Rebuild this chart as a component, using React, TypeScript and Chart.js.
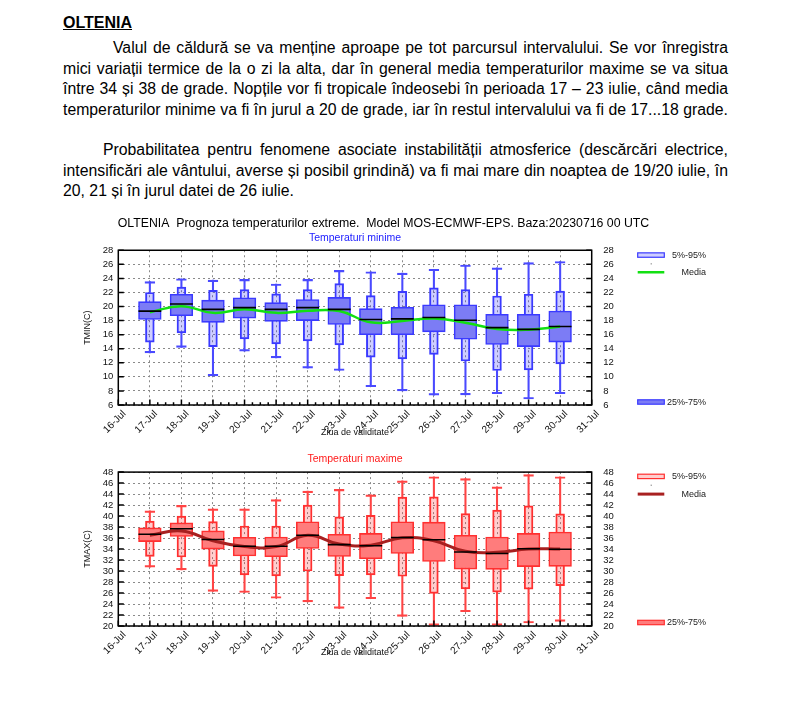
import React, { useEffect, useRef } from 'react';
import { Chart, registerables } from 'chart.js';

Chart.register(...registerables);

const FONT = '"Liberation Sans", Arial, Helvetica, sans-serif';

// ---------------- data ----------------
const axisDays = ['16-Jul', '17-Jul', '18-Jul', '19-Jul', '20-Jul', '21-Jul', '22-Jul', '23-Jul', '24-Jul', '25-Jul', '26-Jul', '27-Jul', '28-Jul', '29-Jul', '30-Jul', '31-Jul'];
const days = ['17-Jul', '18-Jul', '19-Jul', '20-Jul', '21-Jul', '22-Jul', '23-Jul', '24-Jul', '25-Jul', '26-Jul', '27-Jul', '28-Jul', '29-Jul', '30-Jul'];

// TMIN
const tminMin = [13.4, 14.2, 10.15, 13.65, 12.7, 11.25, 10.9, 8.6, 8.0, 7.4, 7.45, 7.6, 6.85, 7.6];
const tminP5 = [14.95, 16.25, 14.3, 15.4, 14.7, 15.1, 14.55, 12.8, 12.55, 13.2, 12.25, 10.9, 11.0, 11.85];
const tminQ1 = [18.15, 18.7, 17.75, 18.35, 17.9, 18.0, 17.45, 16.0, 16.0, 16.4, 15.35, 14.6, 14.3, 14.95];
const tminMedian = [19.35, 20.35, 19.6, 19.85, 19.6, 19.85, 19.6, 18.15, 18.25, 18.45, 18.05, 17.0, 16.75, 17.15];
const tminQ3 = [20.7, 21.75, 20.9, 21.25, 20.55, 21.0, 21.3, 19.7, 19.9, 20.25, 20.25, 18.9, 18.9, 19.35];
const tminP95 = [22.0, 22.75, 22.3, 22.4, 21.8, 22.4, 23.25, 21.55, 22.15, 22.65, 22.4, 21.5, 21.75, 22.2];
const tminMax = [23.55, 23.95, 23.75, 23.85, 23.2, 23.85, 25.15, 24.95, 24.75, 25.3, 25.9, 25.5, 26.25, 26.4];
const tminMean = [19.2, 20.05, 19.1, 19.6, 19.1, 19.4, 19.35, 17.75, 17.95, 18.3, 17.7, 16.8, 16.7, 17.15];

// TMAX
const tmaxMin = [30.7, 30.2, 26.3, 26.1, 25.05, 24.4, 23.2, 24.95, 21.75, 20.1, 22.6, 20.1, 20.55, 20.85];
const tmaxP5 = [32.65, 32.55, 30.85, 29.3, 29.1, 30.0, 29.15, 29.3, 29.05, 25.95, 26.75, 26.15, 26.7, 27.35];
const tmaxQ1 = [35.35, 36.3, 34.0, 32.75, 32.6, 34.1, 32.65, 32.25, 33.2, 31.75, 30.35, 30.3, 30.8, 30.85];
const tmaxMedian = [36.7, 37.7, 35.75, 34.5, 34.5, 36.5, 34.8, 34.6, 36.1, 35.7, 33.45, 33.2, 34.05, 33.95];
const tmaxQ3 = [37.85, 38.75, 37.3, 36.15, 36.2, 38.95, 36.7, 36.85, 38.95, 38.9, 36.5, 36.2, 36.85, 37.1];
const tmaxP95 = [39.1, 40.0, 39.0, 38.2, 38.2, 42.0, 39.85, 40.15, 43.45, 43.5, 40.45, 41.1, 41.85, 40.4];
const tmaxMax = [40.95, 41.95, 41.3, 41.3, 43.0, 44.55, 44.85, 43.85, 46.4, 47.15, 46.8, 45.3, 47.55, 47.15];
const tmaxMean = [36.5, 37.3, 35.5, 34.45, 34.45, 36.5, 34.9, 34.7, 36.05, 35.5, 33.6, 33.4, 34.0, 34.0];

const legendLabels = ['5%-95%', 'Media', '25%-75%'];

const mainTitle = 'OLTENIA  Prognoza temperaturilor extreme.  Model MOS-ECMWF-EPS. Baza:20230716 00 UTC';

const para1 = [
  'Valul de căldură se va menține aproape pe tot parcursul intervalului. Se vor înregistra',
  'mici variații termice de la o zi la alta, dar în general media temperaturilor maxime se va situa',
  'între 34 și 38 de grade. Nopțile vor fi tropicale îndeosebi în perioada 17 – 23 iulie, când media',
  'temperaturilor minime va fi în jurul a 20 de grade, iar în restul intervalului va fi de 17...18 grade.',
];
const para2 = [
  'Probabilitatea pentru fenomene asociate instabilității atmosferice (descărcări electrice,',
  'intensificări ale vântului, averse și posibil grindină) va fi mai mare din noaptea de 19/20 iulie, în',
  '20, 21 și în jurul datei de 26 iulie.',
];

// ---------------- plugins ----------------
const gnuFrame = {
  id: 'gnuFrame',
  afterDatasetsDraw(chart: any) {
    const { ctx, chartArea: a, scales } = chart;
    const x = scales.x;
    const y = scales.y;
    ctx.save();
    ctx.strokeStyle = '#000';
    ctx.lineWidth = 1.5;
    ctx.beginPath();
    y.ticks.forEach((t: any) => {
      const py = y.getPixelForValue(t.value);
      ctx.moveTo(a.left, py);
      ctx.lineTo(a.left + 5.5, py);
      ctx.moveTo(a.right, py);
      ctx.lineTo(a.right - 5.5, py);
    });
    const n = x.ticks.length;
    for (let i = 0; i < n; i++) {
      const px = x.getPixelForTick(i);
      ctx.moveTo(px, a.bottom);
      ctx.lineTo(px, a.bottom - 5.5);
      if (i < n - 1) {
        const nx = x.getPixelForTick(i + 1);
        for (let k = 1; k < 4; k++) {
          const mx = px + ((nx - px) * k) / 4;
          ctx.moveTo(mx, a.bottom);
          ctx.lineTo(mx, a.bottom - 2.8);
        }
      }
    }
    ctx.stroke();
    ctx.strokeRect(a.left, a.top, a.right - a.left, a.bottom - a.top);
    ctx.restore();
  },
};

const gnuLegend = {
  id: 'gnuLegend',
  afterDraw(chart: any, _args: any, o: any) {
    const { ctx, chartArea: a } = chart;
    const bx = a.right + 46;
    const bw = 26.6;
    const tx = a.right + 114.3;
    ctx.save();
    ctx.font = `9px ${FONT}`;
    ctx.textAlign = 'right';
    ctx.textBaseline = 'middle';
    // 5%-95%
    const y1 = a.top + o.row1;
    ctx.fillStyle = o.lightFill;
    ctx.fillRect(bx, y1 - 2.2, bw, 4.4);
    ctx.strokeStyle = o.stroke;
    ctx.lineWidth = 1.2;
    ctx.strokeRect(bx, y1 - 2.2, bw, 4.4);
    ctx.fillStyle = '#222';
    ctx.fillText(legendLabels[0], tx, y1 + 0.5);
    ctx.fillStyle = '#555';
    ctx.fillRect(bx + 13, y1 + 8.3, 1, 1);
    // Media
    const y2 = a.top + o.row2;
    ctx.strokeStyle = o.meanColor;
    ctx.lineWidth = o.meanWidth;
    ctx.beginPath();
    ctx.moveTo(bx, y2);
    ctx.lineTo(bx + bw, y2);
    ctx.stroke();
    ctx.fillStyle = '#222';
    ctx.fillText(legendLabels[1], tx, y2 + 0.5);
    // 25%-75%
    const y3 = a.bottom + o.row3;
    ctx.fillStyle = o.darkFill;
    ctx.fillRect(bx, y3 - 2.2, bw, 4.4);
    ctx.strokeStyle = o.stroke;
    ctx.lineWidth = 1.2;
    ctx.strokeRect(bx, y3 - 2.2, bw, 4.4);
    ctx.fillStyle = '#222';
    ctx.fillText(legendLabels[2], tx, y3 + 0.5);
    ctx.restore();
  },
};

// ---------------- config ----------------
type Params = {
  min: number[]; p5: number[]; q1: number[]; median: number[]; q3: number[]; p95: number[]; max: number[]; mean: number[];
  yMin: number; yMax: number; yTitle: string; subtitle: string; subColor: string;
  withTitle: boolean;
  darkFill: string; lightFill: string; stroke: string; whisker: string; meanColor: string; meanWidth: number;
  titleTop: number; subTop: number; subBottom: number; xHeight: number;
  row1: number; row2: number; row3: number;
};

function buildConfig(p: Params): any {
  const range = (lo: number[], hi: number[]) => days.map((d, i) => ({ x: d, y: [lo[i], hi[i]] }));
  const pts = (v: number[]) => days.map((d, i) => ({ x: d, y: v[i] }));
  const tickFont = { family: FONT, size: 9.5 };
  const fixY = (w: number) => (s: any) => {
    s.width = w;
    s.paddingTop = 0;
    s.paddingBottom = 0;
    s.paddingLeft = 0;
    s.paddingRight = 0;
  };
  return {
    type: 'bar',
    data: {
      labels: axisDays,
      datasets: [
        {
          type: 'line', label: 'Mediana', data: pts(p.median), showLine: false,
          pointStyle: 'line', pointRadius: 11.4, pointHoverRadius: 11.4,
          pointBorderColor: '#000', pointBackgroundColor: '#000', pointBorderWidth: 1.6,
        },
        {
          type: 'line', label: legendLabels[1], data: pts(p.mean), borderColor: p.meanColor,
          borderWidth: p.meanWidth, tension: 0.45, pointRadius: 0, fill: false,
        },
        {
          label: legendLabels[2], data: range(p.q1, p.q3), backgroundColor: p.darkFill,
          borderColor: p.stroke, borderWidth: 1.6, barThickness: 22.7,
        },
        {
          label: legendLabels[0], data: range(p.p5, p.p95), backgroundColor: p.lightFill,
          borderColor: p.stroke, borderWidth: 1.3, barThickness: 8.8,
        },
        {
          label: 'capHi', data: range(p.p95, p.max), backgroundColor: 'rgba(0,0,0,0)',
          borderColor: p.whisker, borderWidth: { top: 1.5, right: 0, bottom: 0, left: 0 }, barThickness: 10.5,
        },
        {
          label: 'capLo', data: range(p.min, p.p5), backgroundColor: 'rgba(0,0,0,0)',
          borderColor: p.whisker, borderWidth: { top: 0, right: 0, bottom: 1.5, left: 0 }, barThickness: 10.5,
        },
        {
          label: 'stemHi', data: range(p.p95, p.max), backgroundColor: p.whisker,
          borderWidth: 0, barThickness: 1.4,
        },
        {
          label: 'stemLo', data: range(p.min, p.p5), backgroundColor: p.whisker,
          borderWidth: 0, barThickness: 1.4,
        },
      ],
    },
    options: {
      animation: false,
      responsive: false,
      events: [],
      layout: { padding: { left: 77.7, right: 106.7, top: 0, bottom: 0 } },
      datasets: { bar: { grouped: false, borderSkipped: false } },
      plugins: {
        legend: { display: false },
        tooltip: { enabled: false },
        title: {
          display: p.withTitle, text: mainTitle, color: '#000', fullSize: true,
          font: { family: FONT, size: 12.3, weight: 'normal' },
          padding: { top: p.titleTop, bottom: 0 },
        },
        subtitle: {
          display: true, text: p.subtitle, color: p.subColor, fullSize: false,
          font: { family: FONT, size: 10.5, weight: 'normal' },
          padding: { top: p.subTop, bottom: p.subBottom },
        },
        gnuLegend: {
          row1: p.row1, row2: p.row2, row3: p.row3,
          lightFill: p.lightFill, darkFill: p.darkFill, stroke: p.stroke,
          meanColor: p.meanColor, meanWidth: p.meanWidth,
        },
      },
      scales: {
        x: {
          type: 'category',
          offset: false,
          grid: { offset: false, color: '#8a8a8a', lineWidth: 1, drawTicks: false },
          border: { display: false, dash: [2, 3] },
          ticks: {
            autoSkip: false, minRotation: 45, maxRotation: 45, padding: 3, labelOffset: 6,
            font: { family: FONT, size: 10 }, color: '#111',
          },
          title: {
            display: true, text: 'Ziua de validitate', color: '#111',
            font: { family: FONT, size: 9 }, padding: { top: 0, bottom: 6.7 },
          },
          afterFit: (s: any) => {
            s.height = p.xHeight;
            s.paddingLeft = 0;
            s.paddingRight = 0;
            s.paddingTop = 0;
            s.paddingBottom = 0;
          },
        },
        y: {
          position: 'left',
          min: p.yMin, max: p.yMax,
          grid: { color: '#8a8a8a', lineWidth: 1, drawTicks: false },
          border: { display: false, dash: [2, 3] },
          ticks: { stepSize: 2, autoSkip: false, padding: 5, font: tickFont, color: '#111' },
          title: {
            display: true, text: p.yTitle, color: '#111',
            font: { family: FONT, size: 9 }, padding: { top: 4, bottom: 0 },
          },
          afterFit: fixY(40.6),
        },
        y2: {
          position: 'right',
          min: p.yMin, max: p.yMax,
          grid: { display: false, drawTicks: false },
          border: { display: false },
          ticks: { stepSize: 2, autoSkip: false, padding: 11.6, font: tickFont, color: '#111' },
          afterFit: fixY(97.6),
        },
      },
    },
    plugins: [gnuFrame, gnuLegend],
  };
}

const tminParams: Params = {
  min: tminMin, p5: tminP5, q1: tminQ1, median: tminMedian, q3: tminQ3, p95: tminP95, max: tminMax, mean: tminMean,
  yMin: 6, yMax: 28, yTitle: 'TMIN(C)', subtitle: 'Temperaturi minime', subColor: '#1a1aff',
  withTitle: true,
  darkFill: '#7c7cf5', lightFill: 'rgba(60,60,255,0.25)', stroke: '#3a3aff', whisker: '#4a4aff',
  meanColor: '#12e012', meanWidth: 2.5,
  titleTop: 11.2, subTop: 0.6, subBottom: 6.1, xHeight: 40,
  row1: 4.8, row2: 22, row3: -3,
};

const tmaxParams: Params = {
  min: tmaxMin, p5: tmaxP5, q1: tmaxQ1, median: tmaxMedian, q3: tmaxQ3, p95: tmaxP95, max: tmaxMax, mean: tmaxMean,
  yMin: 20, yMax: 48, yTitle: 'TMAX(C)', subtitle: 'Temperaturi maxime', subColor: '#ff1a1a',
  withTitle: false,
  darkFill: '#ff7c7c', lightFill: 'rgba(255,60,60,0.25)', stroke: '#ff3030', whisker: '#ff4444',
  meanColor: '#a82020', meanWidth: 3,
  titleTop: 0, subTop: 7.4, subBottom: 7.1, xHeight: 39,
  row1: 4.3, row2: 22, row3: -3.5,
};

function BoxChart({ params, top, height }: { params: Params; top: number; height: number }) {
  const ref = useRef<HTMLCanvasElement | null>(null);
  useEffect(() => {
    if (!ref.current) return;
    const chart = new Chart(ref.current, buildConfig(params));
    return () => chart.destroy();
  }, [params]);
  return (
    <canvas
      ref={ref}
      width={796}
      height={height}
      style={{ position: 'absolute', left: 0, top, width: 796, height, display: 'block' }}
    />
  );
}

const lineStyle = (left: number, top: number, justify: boolean): React.CSSProperties => ({
  position: 'absolute',
  left,
  top,
  width: 728 - left,
  height: 20,
  lineHeight: '20px',
  whiteSpace: 'nowrap',
  textAlign: justify ? 'justify' : 'left',
  textAlignLast: justify ? 'justify' : 'left',
});

export default function App() {
  return (
    <div
      style={{
        position: 'absolute', left: 0, top: 0, width: 796, height: 727, background: '#fff',
        fontFamily: FONT, color: '#000', fontSize: 15.8,
      }}
    >
      <div
        style={{
          position: 'absolute', left: 63, top: 13, lineHeight: '20px', fontSize: 16,
          fontWeight: 'bold', textDecoration: 'underline',
        }}
      >
        OLTENIA
      </div>
      <div style={lineStyle(113, 38, true)}>{para1[0]}</div>
      <div style={lineStyle(63, 58.5, true)}>{para1[1]}</div>
      <div style={lineStyle(63, 79, true)}>{para1[2]}</div>
      <div style={lineStyle(63, 99.5, true)}>{para1[3]}</div>
      <div style={lineStyle(103, 140, true)}>{para2[0]}</div>
      <div style={lineStyle(63, 160.5, true)}>{para2[1]}</div>
      <div style={lineStyle(63, 181, false)}>{para2[2]}</div>
      <BoxChart params={tminParams} top={205} height={240} />
      <BoxChart params={tmaxParams} top={445} height={220} />
    </div>
  );
}
